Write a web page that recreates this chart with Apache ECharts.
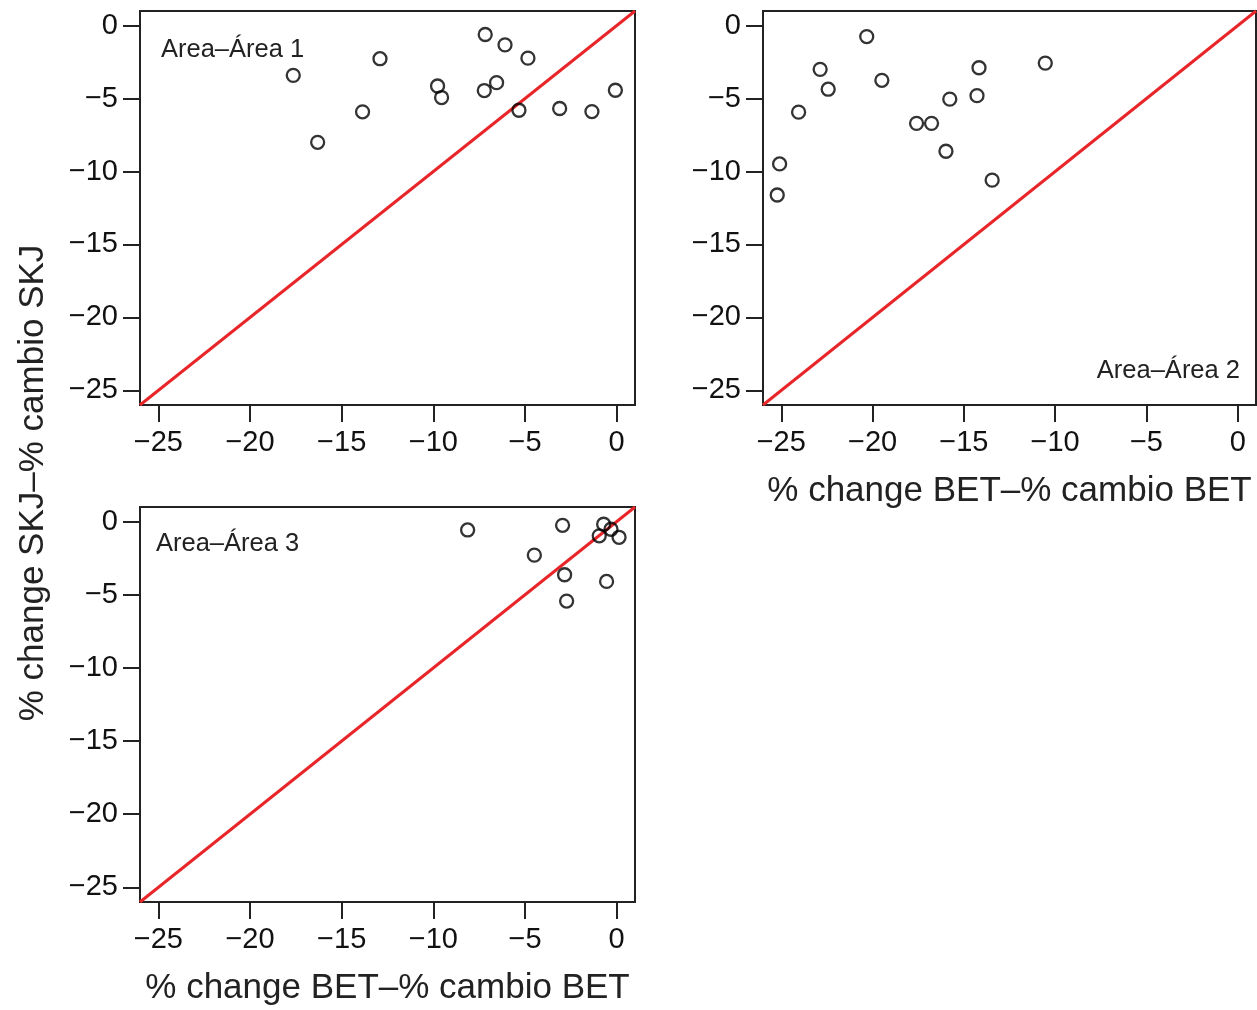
<!DOCTYPE html>
<html>
<head>
<meta charset="utf-8">
<script src="https://cdn.jsdelivr.net/npm/echarts@6/dist/echarts.min.js"></script>
<style>
html,body{margin:0;padding:0;background:#fff;}
#chart{width:1257px;height:1010px;}
</style>
</head>
<body>
<div id="chart"></div>
<script>
// ---- data ----
const tickValues = [-25, -20, -15, -10, -5, 0];
const tickLabels = ['\u221225', '\u221220', '\u221215', '\u221210', '\u22125', '0'];
const axisMin = -26;
const axisMax = 1;
const diagLine = [[-26, -26], [1, 1]];

const area1BET = [-17.64, -16.31, -13.86, -12.91, -9.77, -9.55, -7.17, -7.22, -6.55, -6.09, -4.84, -5.33, -3.11, -1.35, -0.07];
const area1SKJ = [-3.41, -8.00, -5.91, -2.27, -4.14, -4.93, -0.61, -4.45, -3.91, -1.32, -2.23, -5.80, -5.68, -5.89, -4.43];

const area2BET = [-20.32, -22.87, -22.43, -24.05, -25.09, -25.22, -19.49, -17.59, -16.77, -15.77, -15.98, -14.17, -14.28, -13.45, -10.54];
const area2SKJ = [-0.75, -3.00, -4.36, -5.93, -9.48, -11.61, -3.75, -6.70, -6.70, -5.04, -8.61, -2.89, -4.80, -10.59, -2.57];

const area3BET = [-8.13, -2.95, -4.49, -2.84, -2.73, -0.71, -0.31, -0.95, 0.13, -0.55];
const area3SKJ = [-0.57, -0.25, -2.29, -3.63, -5.43, -0.18, -0.52, -0.97, -1.07, -4.09];

const panelLabels = ['Area\u2013\u00c1rea 1', 'Area\u2013\u00c1rea 2', 'Area\u2013\u00c1rea 3'];
const xTitle = '% change BET\u2013% cambio BET';
const yTitle = '% change SKJ\u2013% cambio SKJ';

// ---- chart ----
const FONT = '"Liberation Sans", Arial, sans-serif';
const chart = echarts.init(document.getElementById('chart'), null, {renderer: 'canvas'});

const grids = [
  {left: 140, top: 11, width: 495, height: 394},
  {left: 763, top: 11, width: 493, height: 394},
  {left: 140, top: 507, width: 495, height: 395}
];

function labelFmt(v) {
  const i = tickValues.indexOf(Math.round(v));
  return i >= 0 ? tickLabels[i] : '';
}

function makeX(i, name) {
  return {
    type: 'value', gridIndex: i, min: axisMin, max: axisMax,
    splitLine: {show: false},
    axisLine: {show: false, onZero: false},
    axisTick: {show: true, length: 17, customValues: tickValues, lineStyle: {color: '#222', width: 2}},
    axisLabel: {show: true, customValues: tickValues, formatter: labelFmt, color: '#111', fontSize: 29, fontFamily: FONT, margin: 23},
    name: name || '', nameLocation: 'middle', nameGap: 69,
    nameTextStyle: {fontSize: 35, color: '#222', fontFamily: FONT}
  };
}
function makeY(i) {
  return {
    type: 'value', gridIndex: i, min: axisMin, max: axisMax,
    splitLine: {show: false},
    axisLine: {show: false, onZero: false},
    axisTick: {show: true, length: 17, customValues: tickValues, lineStyle: {color: '#222', width: 2}},
    axisLabel: {show: true, customValues: tickValues, formatter: labelFmt, color: '#111', fontSize: 29, fontFamily: FONT, margin: 22}
  };
}

function zip(a, b) { return a.map((v, i) => [v, b[i]]); }

const pointStyle = {color: 'rgba(0,0,0,0)', borderColor: '#000', borderWidth: 2.3};
const series = [];
[[area1BET, area1SKJ], [area2BET, area2SKJ], [area3BET, area3SKJ]].forEach((d, i) => {
  series.push({
    type: 'line', xAxisIndex: i, yAxisIndex: i, data: diagLine,
    symbol: 'none', lineStyle: {color: '#E8262A', width: 3}, silent: true, animation: false, z: 2
  });
  series.push({
    type: 'scatter', xAxisIndex: i, yAxisIndex: i, data: zip(d[0], d[1]),
    symbol: 'circle', symbolSize: 13, itemStyle: pointStyle, animation: false, z: 3
  });
});

chart.setOption({
  animation: false,
  backgroundColor: '#fff',
  grid: grids.map(g => Object.assign({show: true, borderColor: '#222', borderWidth: 2, backgroundColor: 'transparent'}, g)),
  xAxis: [makeX(0), makeX(1, xTitle), makeX(2, xTitle)],
  yAxis: [makeY(0), makeY(1), makeY(2)],
  series: series,
  graphic: [
    {type: 'text', left: 161, top: 37, style: {text: panelLabels[0], fontSize: 25.5, fill: '#222', fontFamily: FONT}},
    {type: 'text', right: 17, top: 358, style: {text: panelLabels[1], fontSize: 25.5, fill: '#222', fontFamily: FONT}},
    {type: 'text', left: 156, top: 531, style: {text: panelLabels[2], fontSize: 25.5, fill: '#222', fontFamily: FONT}},
    {type: 'text', x: 33, y: 483, rotation: Math.PI / 2,
      style: {text: yTitle, fontSize: 35, fill: '#222', fontFamily: FONT, align: 'center', verticalAlign: 'middle'}}
  ]
});
</script>
</body>
</html>
